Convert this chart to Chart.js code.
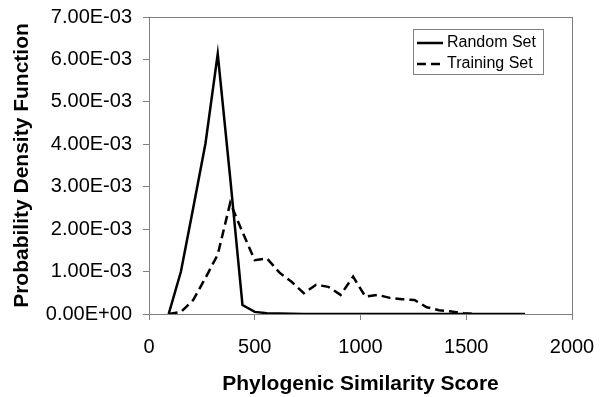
<!DOCTYPE html>
<html>
<head>
<meta charset="utf-8">
<style>
  html, body { margin: 0; padding: 0; background: #fff; }
  #wrap { width: 600px; height: 397px; }
</style>
<script src="https://cdn.jsdelivr.net/npm/chart.js@4/dist/chart.umd.min.js"></script>
</head>
<body>
<div id="wrap"><canvas id="pdfChart" width="600" height="397"></canvas></div>
<script>
// bin centres of the similarity score
const scores = [93, 151, 209, 267, 325, 384, 442, 500, 558, 616, 674, 732, 790, 848, 906,
                965, 1023, 1081, 1139, 1197, 1255, 1313, 1371, 1429, 1487, 1546, 1604, 1662, 1720, 1778];

const randomSet = [0, 1.0e-3, 2.5e-3, 4.02e-3, 6.13e-3, 3.2e-3, 0.21e-3, 0.05e-3, 0.02e-3, 0.01e-3,
                   0.005e-3, 0, 0, 0, 0, 0, 0, 0, 0, 0, 0, 0, 0, 0, 0, 0, 0, 0, 0, 0];

const trainingSet = [0, 0.05e-3, 0.33e-3, 0.85e-3, 1.4e-3, 2.62e-3, 1.93e-3, 1.27e-3, 1.31e-3, 0.98e-3,
                     0.76e-3, 0.49e-3, 0.69e-3, 0.64e-3, 0.45e-3, 0.88e-3, 0.41e-3, 0.45e-3, 0.38e-3, 0.35e-3,
                     0.33e-3, 0.16e-3, 0.09e-3, 0.06e-3, 0.02e-3, 0];

const xTicks = [0, 500, 1000, 1500, 2000];
const yTicks = [0, 1e-3, 2e-3, 3e-3, 4e-3, 5e-3, 6e-3, 7e-3];

const dash = [9, 5];
const fontFamily = '"Liberation Sans", Arial, sans-serif';

function toPoints(vals) {
    return vals.map((v, i) => ({ x: scores[i], y: v }));
}

// excel style 0.00E+00
function sci(v) {
    const parts = v.toExponential(2).toUpperCase().split('E');
    const sign = parts[1][0];
    let exp = parts[1].slice(1);
    if (exp.length < 2) exp = '0' + exp;
    return parts[0] + 'E' + sign + exp;
}

// frame round the plot + legend box
const framePlugin = {
    id: 'frame',
    afterDraw(chart) {
        const ctx = chart.ctx;
        const a = chart.chartArea;
        ctx.save();
        ctx.strokeStyle = '#808080';
        ctx.lineWidth = 1;
        ctx.strokeRect(a.left + 0.5, a.top + 0.5, a.right - a.left, a.bottom - a.top);

        // legend
        const bx = 413, by = 29, bw = 130, bh = 45;
        ctx.fillStyle = '#fff';
        ctx.fillRect(bx, by, bw, bh);
        ctx.strokeRect(bx + 0.5, by + 0.5, bw, bh);
        ctx.strokeStyle = '#000';
        ctx.lineWidth = 2.5;
        ctx.beginPath();
        ctx.moveTo(417, 43); ctx.lineTo(443, 43);
        ctx.stroke();
        ctx.setLineDash(dash);
        ctx.beginPath();
        ctx.moveTo(417, 64); ctx.lineTo(443, 64);
        ctx.stroke();
        ctx.setLineDash([]);
        ctx.fillStyle = '#000';
        ctx.font = '16px ' + fontFamily;
        ctx.textBaseline = 'middle';
        ctx.textAlign = 'left';
        ctx.fillText('Random Set', 447, 43);
        ctx.fillText('Training Set', 447, 64);
        ctx.restore();
    }
};

const bgPlugin = {
    id: 'bg',
    beforeDraw(chart) {
        const ctx = chart.ctx;
        ctx.save();
        ctx.fillStyle = '#fff';
        ctx.fillRect(0, 0, chart.width, chart.height);
        ctx.restore();
    }
};

const ctx = document.getElementById('pdfChart').getContext('2d');
const chart = new Chart(ctx, {
    type: 'line',
    data: {
        datasets: [{
            label: 'Random Set',
            data: toPoints(randomSet),
            borderColor: '#000',
            borderWidth: 2.5,
            pointRadius: 0,
            tension: 0,
            fill: false
        },
        {
            label: 'Training Set',
            data: toPoints(trainingSet),
            borderColor: '#000',
            borderWidth: 2.5,
            borderDash: dash,
            pointRadius: 0,
            tension: 0,
            fill: false
        }]
    },
    options: {
        responsive: false,
        animation: false,
        layout: { padding: { left: 0, right: 28, top: 17, bottom: 0 } },
        plugins: {
            legend: { display: false },
            tooltip: { enabled: false }
        },
        scales: {
            x: {
                type: 'linear',
                min: 0,
                max: 2000,
                afterFit: s => { s.height = 83; s.paddingLeft = 0; s.paddingRight = 0; },
                afterBuildTicks: s => { s.ticks = xTicks.map(v => ({ value: v })); },
                grid: { drawOnChartArea: false, drawTicks: true, tickLength: 6, color: '#808080' },
                border: { color: '#808080' },
                ticks: {
                    color: '#000',
                    padding: 15,
                    maxRotation: 0,
                    callback: v => String(v),
                    font: { family: fontFamily, size: 20 }
                },
                title: {
                    display: true,
                    text: 'Phylogenic Similarity Score',
                    color: '#000',
                    padding: { top: 0, bottom: 0 },
                    font: { family: fontFamily, size: 21, weight: 'bold' }
                }
            },
            y: {
                min: 0,
                max: 0.007,
                afterFit: s => { s.width = 149; s.paddingTop = 0; s.paddingBottom = 0; },
                afterBuildTicks: s => { s.ticks = yTicks.map(v => ({ value: v })); },
                grid: { drawOnChartArea: false, drawTicks: true, tickLength: 6, color: '#808080' },
                border: { color: '#808080' },
                ticks: {
                    color: '#000',
                    padding: 11,
                    callback: v => sci(v),
                    font: { family: fontFamily, size: 20 }
                },
                title: {
                    display: true,
                    text: 'Probability Density Function',
                    color: '#000',
                    padding: { top: 10, bottom: 0 },
                    font: { family: fontFamily, size: 21, weight: 'bold' }
                }
            }
        }
    },
    plugins: [bgPlugin, framePlugin]
});
</script>
</body>
</html>
